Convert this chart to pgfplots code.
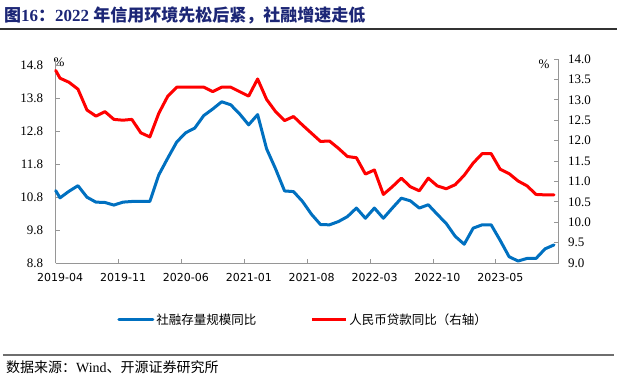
\documentclass[border=0pt]{standalone}
\usepackage{fontspec}
\setmainfont{Liberation Serif}
\newfontfamily\cjk{Noto Sans CJK SC}
\newfontfamily\xfont{DejaVu Sans}
\usepackage{pgfplots}
\pgfplotsset{compat=1.18}
\definecolor{tsf}{RGB}{0,112,192}
\definecolor{loan}{RGB}{255,0,0}
\definecolor{navy}{RGB}{28,38,118}
\definecolor{axgray}{RGB}{150,150,150}
\definecolor{rulegray}{RGB}{110,110,110}
\definecolor{ruledark}{RGB}{50,50,50}

\pgfplotstableread{
x y
0 11.00
0.48 10.78
1.48 10.98
2.48 11.15
3.48 10.80
4.48 10.65
5.48 10.64
6.48 10.56
7.48 10.65
8.48 10.67
9.48 10.67
10.48 10.67
11.48 11.48
12.48 11.99
13.48 12.48
14.48 12.76
15.48 12.90
16.48 13.28
17.48 13.48
18.48 13.70
19.48 13.61
20.48 13.33
21.48 13.00
22.48 13.31
23.48 12.27
24.48 11.66
25.48 10.99
26.48 10.97
27.48 10.67
28.48 10.28
29.48 9.97
30.48 9.96
31.48 10.06
32.48 10.21
33.48 10.47
34.48 10.16
35.48 10.47
36.48 10.16
37.48 10.47
38.48 10.77
39.48 10.69
40.48 10.47
41.48 10.57
42.48 10.28
43.48 10.00
44.48 9.61
45.48 9.37
46.48 9.86
47.48 9.96
48.48 9.96
49.48 9.49
50.48 8.99
51.48 8.86
52.48 8.94
53.48 8.94
54.48 9.23
55.48 9.35
}\tsfdata

\pgfplotstableread{
x y
0 13.72
0.48 13.53
1.48 13.43
2.48 13.26
3.48 12.75
4.48 12.60
5.48 12.71
6.48 12.52
7.48 12.50
8.48 12.52
9.48 12.19
10.48 12.09
11.48 12.67
12.48 13.09
13.48 13.31
14.48 13.31
15.48 13.31
16.48 13.31
17.48 13.20
18.48 13.31
19.48 13.31
20.48 13.20
21.48 13.09
22.48 13.51
23.48 13.01
24.48 12.71
25.48 12.49
26.48 12.59
27.48 12.38
28.48 12.18
29.48 11.98
30.48 11.99
31.48 11.81
32.48 11.61
33.48 11.58
34.48 11.18
35.48 11.28
36.48 10.68
37.48 10.87
38.48 11.08
39.48 10.87
40.48 10.77
41.48 11.08
42.48 10.89
43.48 10.82
44.48 10.92
45.48 11.15
46.48 11.45
47.48 11.68
48.48 11.68
49.48 11.30
50.48 11.19
51.48 11.01
52.48 10.89
53.48 10.68
54.48 10.67
55.48 10.67
}\loandata

\begin{document}
\begin{tikzpicture}
\path[use as bounding box] (-55.7pt,-128pt) rectangle (561.3pt,263pt);
% title
\node[anchor=west, text=navy, inner sep=0pt] at (-51.7pt,248pt)
  {\fontsize{17}{18}\selectfont\bfseries{\cjk 图}16{\cjk ：}2022 {\cjk 年信用环境先松后紧，社融增速走低}};
% footer
\node[anchor=west, inner sep=0pt] at (-49.7pt,-104pt)
  {\fontsize{14}{14}\selectfont{\cjk 数据来源：}Wind{\cjk 、开源证券研究所}};
% percent signs
\node[inner sep=0pt, font=\fontsize{13}{13}\selectfont] at (3.3pt,200.5pt) {\%};
\node[inner sep=0pt, font=\fontsize{13}{13}\selectfont] at (488.3pt,199pt) {\%};

\begin{axis}[
  width=503pt, height=204pt, scale only axis,
  xmin=0, xmax=56, ymin=8.8, ymax=15.0,
  axis y line*=left, axis x line*=bottom,
  axis line style={axgray, line width=0.9pt},
  tick align=inside, major tick length=4.5pt,
  major tick style={axgray, line width=0.8pt},
  xtick={0,7,14,21,28,35,42,49,56},
  xticklabels={2019-04,2019-11,2020-06,2021-01,2021-08,2022-03,2022-10,2023-05,{}},
  xticklabel style={xshift=4.5pt, yshift=-7pt, font=\xfont\fontsize{11}{11}\selectfont},
  ytick={8.8,9.8,10.8,11.8,12.8,13.8,14.8},
  yticklabel style={xshift=-9pt, font=\fontsize{13}{13}\selectfont,
    /pgf/number format/fixed, /pgf/number format/fixed zerofill, /pgf/number format/precision=1},
  /pgf/number format/assume math mode=true,
  legend style={at={(0.492,-0.279)}, anchor=center, draw=none, fill=none,
    legend columns=2, font=\cjk\fontsize{12.5}{12.5}\selectfont,
    /tikz/every even column/.append style={column sep=52pt}},
  legend image code/.code={\draw[#1] (0pt,0pt) -- (34pt,0pt);},
  clip=false,
]
\addplot[tsf, line width=3pt, line join=round, line cap=round] table[x=x,y=y] {\tsfdata};
\addlegendentry{社融存量规模同比}
\addlegendimage{loan, line width=3pt}
\addlegendentry{人民币贷款同比（右轴）}
\draw[ruledark, line width=1.8pt] ([shift={(-55.7pt,234pt)}]rel axis cs:0,0) -- ([shift={(561.3pt,234pt)}]rel axis cs:0,0);
\draw[rulegray, line width=1.5pt] ([shift={(-52.7pt,-92pt)}]rel axis cs:0,0) -- ([shift={(558.3pt,-92pt)}]rel axis cs:0,0);
\end{axis}

\begin{axis}[
  width=503pt, height=204pt, scale only axis,
  xmin=0, xmax=56, ymin=9, ymax=14,
  axis y line*=right, axis x line=none,
  axis line style={axgray, line width=0.9pt},
  tick align=inside, major tick length=4.5pt,
  major tick style={axgray, line width=0.8pt},
  ytick={9,9.5,10,10.5,11,11.5,12,12.5,13,13.5,14},
  yticklabel style={xshift=6pt, font=\fontsize{13}{13}\selectfont,
    /pgf/number format/fixed, /pgf/number format/fixed zerofill, /pgf/number format/precision=1},
  /pgf/number format/assume math mode=true,
  clip=false,
]
\addplot[loan, line width=3pt, line join=round, line cap=round] table[x=x,y=y] {\loandata};
\end{axis}
\end{tikzpicture}
\end{document}
